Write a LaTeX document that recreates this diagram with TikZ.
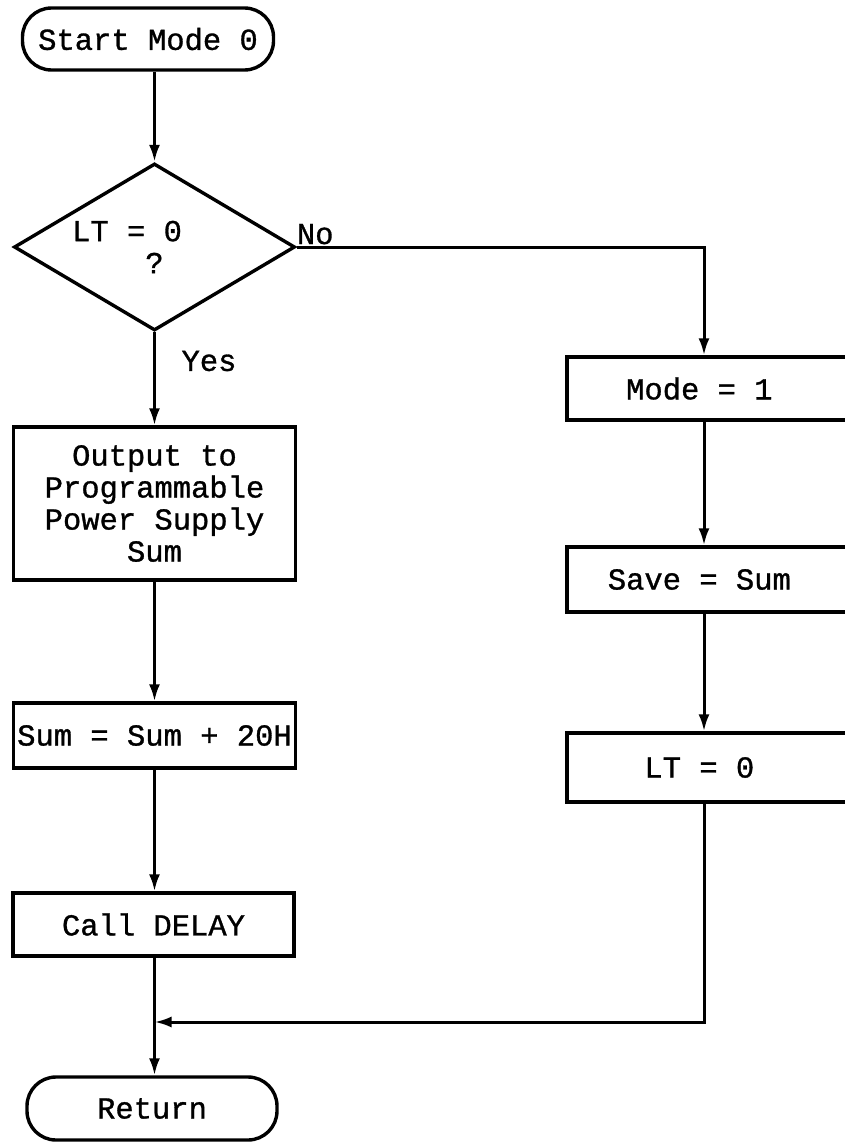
\documentclass[tikz,border=0pt]{standalone}
\usepackage{fontspec}
\setmonofont[FakeBold=1]{Liberation Mono}
\usepackage{tikz}
\usetikzlibrary{positioning,arrows.meta,shapes.geometric}
\tikzset{
  termnode/.style={rectangle, rounded corners=29pt, draw, line width=3.4pt, minimum width=251pt, minimum height=62pt, inner sep=0pt},
  procnode/.style={rectangle, draw, line width=3.4pt, inner sep=0pt, align=center},
  decnode/.style={diamond, draw, line width=3.4pt, aspect=1.68, minimum width=281pt, minimum height=167pt, inner sep=0pt, align=left},
  arrow/.style={-{Latex[length=17pt,width=11pt]}, line width=3pt},
  lbl/.style={inner sep=0pt}
}

\begin{document}
\begin{tikzpicture}[x=1pt,y=-1pt,font=\ttfamily\fontsize{30.5}{32}\selectfont]
\useasboundingbox[fill=white] (0,0) rectangle (844,1143);
% left column
\node[termnode] (start) at (148,39) {Start Mode 0};
\node[decnode] (dec) at (154.5,247) {LT = 0\hphantom{000}\\\hphantom{LT =}?};
\node[procnode, minimum width=282pt, minimum height=153pt] (out) at (154.5,503.5) {Output to\\Programmable\\Power Supply\\Sum};
\node[procnode, minimum width=282pt, minimum height=65pt] (sum) at (154.5,735.5) {Sum = Sum + 20H};
\node[procnode, minimum width=281pt, minimum height=63pt] (call) at (153.5,924.5) {Call DELAY};
\node[termnode, minimum width=250pt, minimum height=63pt] (ret) at (152,1108.5) {Return};
% right column
\node[procnode, minimum width=283pt, minimum height=63pt] (mode) at (708.5,388.5) {Mode = 1\hphantom{0}};
\node[procnode, minimum width=283pt, minimum height=65pt] (save) at (708.5,579.5) {Save = Sum\hphantom{0}};
\node[procnode, minimum width=283pt, minimum height=69pt] (lt) at (708.5,767.5) {LT = 0\hphantom{0}};
\coordinate (rcol) at (704,247);
\coordinate (mrg) at (154.5,1022);
% labels
\node[lbl] (yes) at (209,361) {Yes};
\node[lbl, anchor=base west] (no) at ([yshift=3pt]dec.east) {No};
% connectors
\draw[arrow] (start.south -| dec.north) -- (dec.north);
\draw[arrow] (dec.south) -- (out.north);
\draw[arrow] (out.south) -- (sum.north);
\draw[arrow] (sum.south) -- (call.north -| sum.south);
\draw[arrow] (call.south -| mrg) -- (ret.north -| mrg);
\draw[arrow] (dec.east) -- (rcol) -- (rcol |- mode.north);
\draw[arrow] (mode.south -| rcol) -- (save.north -| rcol);
\draw[arrow] (save.south -| rcol) -- (lt.north -| rcol);
\draw[arrow] (lt.south -| rcol) |- (mrg);
\end{tikzpicture}
\end{document}
